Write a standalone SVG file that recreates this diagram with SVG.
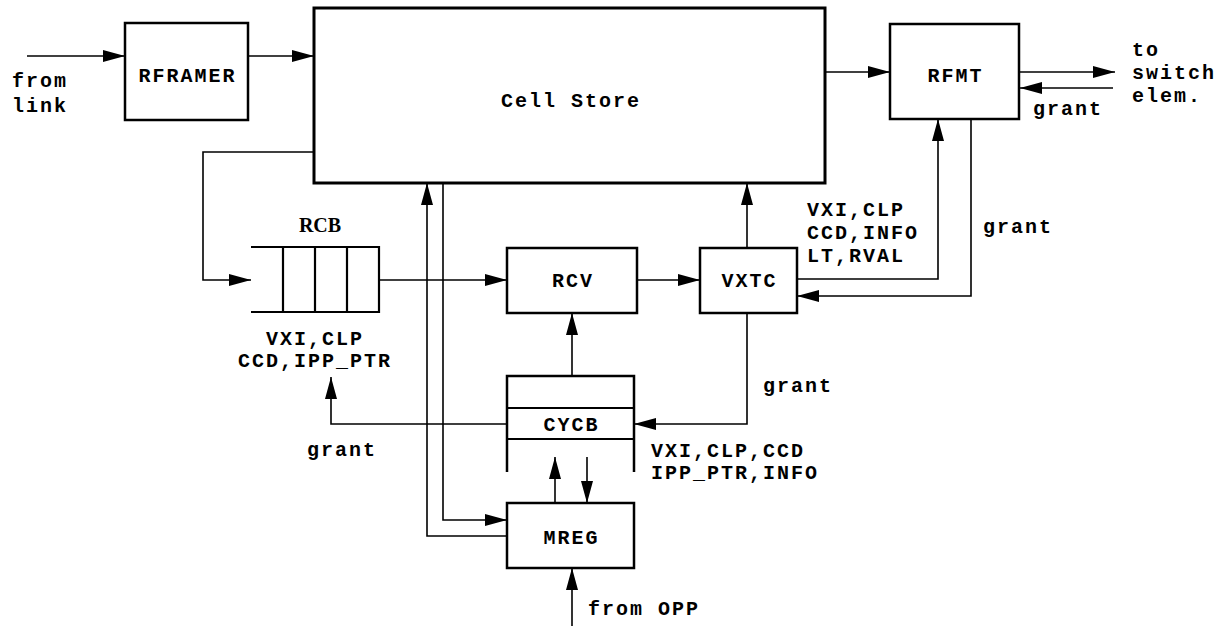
<svg xmlns="http://www.w3.org/2000/svg" width="1227" height="626" viewBox="0 0 1227 626">
<defs>
<marker id="arr" markerUnits="userSpaceOnUse" markerWidth="22" markerHeight="12" refX="22" refY="6" orient="auto">
<path d="M0,0 L22,6 L0,12 z" fill="#000"/>
</marker>
<style>
.box{fill:#fff;stroke:#000;stroke-width:2.5}
.ln{fill:none;stroke:#000;stroke-width:1.6}
.t{font-family:"Liberation Mono","Courier New",monospace;font-weight:bold;font-size:20px;letter-spacing:2px;fill:#000}
.m{text-anchor:middle}
.s{font-family:"Liberation Serif","Times New Roman",serif;font-weight:bold;font-size:20px;fill:#000;text-anchor:middle}
</style>
</defs>
<rect width="1227" height="626" fill="#fff"/>
<g id="connectors">
<path class="ln" d="M27,56 H125" marker-end="url(#arr)"/>
<path class="ln" d="M248,56 H314" marker-end="url(#arr)"/>
<path class="ln" d="M825,72 H890" marker-end="url(#arr)"/>
<path class="ln" d="M1019,72 H1115" marker-end="url(#arr)"/>
<path class="ln" d="M1113,88 H1020" marker-end="url(#arr)"/>
<path class="ln" d="M314,152 H203 V280 H251" marker-end="url(#arr)"/>
<path class="ln" d="M379,280 H507" marker-end="url(#arr)"/>
<path class="ln" d="M637,280 H700" marker-end="url(#arr)"/>
<path class="ln" d="M747,248 V183" marker-end="url(#arr)"/>
<path class="ln" d="M797,279 H938 V119" marker-end="url(#arr)"/>
<path class="ln" d="M971,119 V296 H797" marker-end="url(#arr)"/>
<path class="ln" d="M747,313 V424 H634" marker-end="url(#arr)"/>
<path class="ln" d="M507,424 H331 V377" marker-end="url(#arr)"/>
<path class="ln" d="M572,376 V313" marker-end="url(#arr)"/>
<path class="ln" d="M555,503 V457" marker-end="url(#arr)"/>
<path class="ln" d="M587,457 V503" marker-end="url(#arr)"/>
<path class="ln" d="M507,536 H427 V183" marker-end="url(#arr)"/>
<path class="ln" d="M443,183 V520 H507" marker-end="url(#arr)"/>
<path class="ln" d="M572,626 V568" marker-end="url(#arr)"/>
</g>
<g id="rframer">
<rect class="box" x="125" y="23" width="123" height="97"/>
<text class="t m" x="187.5" y="82">RFRAMER</text>
</g>
<g id="cellstore">
<rect class="box" x="314" y="8" width="511" height="175" style="stroke-width:3"/>
<text class="t m" x="571" y="107">Cell Store</text>
</g>
<g id="rfmt">
<rect class="box" x="890" y="24" width="129" height="95"/>
<text class="t m" x="955.5" y="82">RFMT</text>
</g>
<g id="rcb">
<path class="ln" d="M251,247 H379 V312 H251 M283,247 V312 M315,247 V312 M347,247 V312" style="stroke-width:2.2"/>
<text class="s" x="320" y="232">RCB</text>
</g>
<g id="rcv">
<rect class="box" x="507" y="248" width="130" height="65"/>
<text class="t m" x="573" y="287">RCV</text>
</g>
<g id="vxtc">
<rect class="box" x="700" y="248" width="97" height="65"/>
<text class="t m" x="749.5" y="287">VXTC</text>
</g>
<g id="cycb">
<path class="ln" d="M507,472 V376 H634 V472" style="stroke-width:2.5"/>
<path class="ln" d="M507,408 H634 M507,439 H634" style="stroke-width:2"/>
<text class="t m" x="571.5" y="431">CYCB</text>
</g>
<g id="mreg">
<rect class="box" x="507" y="503" width="127" height="65"/>
<text class="t m" x="571.5" y="544">MREG</text>
</g>
<g id="labels">
<text class="t" x="12" y="87">from</text>
<text class="t" x="12" y="112">link</text>
<text class="t" x="1132" y="56">to</text>
<text class="t" x="1132" y="79">switch</text>
<text class="t" x="1132" y="102">elem.</text>
<text class="t" x="1033" y="115">grant</text>
<text class="t" x="807" y="216">VXI,CLP</text>
<text class="t" x="807" y="239">CCD,INFO</text>
<text class="t" x="807" y="262">LT,RVAL</text>
<text class="t" x="983" y="233">grant</text>
<text class="t m" x="315" y="345">VXI,CLP</text>
<text class="t m" x="315" y="367">CCD,IPP_PTR</text>
<text class="t" x="307" y="456">grant</text>
<text class="t" x="763" y="392">grant</text>
<text class="t" x="651" y="457">VXI,CLP,CCD</text>
<text class="t" x="651" y="479">IPP_PTR,INFO</text>
<text class="t" x="588" y="615">from OPP</text>
</g>
</svg>
